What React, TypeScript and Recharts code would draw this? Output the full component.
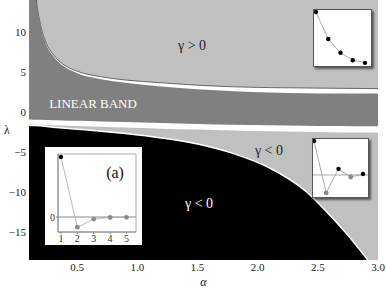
import React from 'react';
import { ComposedChart, Area, Line, XAxis, YAxis, CartesianGrid, ReferenceArea, ReferenceDot, ReferenceLine } from 'recharts';

const serif = '"Liberation Serif", "DejaVu Serif", serif';

// main phase diagram (alpha on x, lambda on y)
const alphas = [0.1, 0.13, 0.16, 0.19, 0.23, 0.3, 0.38, 0.5, 0.7, 0.9, 1.2, 1.5, 1.8, 2.1, 2.4, 2.6, 2.8, 2.9, 3.0];
const upperEdge = [39, 20.2, 14.2, 11.3, 9.1, 7.2, 6.0, 5.1, 4.4, 4.0, 3.65, 3.35, 3.15, 3.05, 3.0, 2.97, 2.95, 2.93, 2.92];
const bandTop = [38.8, 20.0, 14.0, 11.1, 8.9, 7.0, 5.8, 4.85, 4.1, 3.65, 3.2, 2.85, 2.6, 2.45, 2.35, 2.32, 2.3, 2.3, 2.3];
const bandBottom = [-0.95, -0.96, -0.97, -0.98, -1.0, -1.03, -1.06, -1.1, -1.18, -1.26, -1.38, -1.5, -1.6, -1.67, -1.72, -1.75, -1.77, -1.78, -1.78];
const lowerWhite = [-1.55, -1.57, -1.58, -1.6, -1.62, -1.65, -1.7, -1.75, -1.85, -1.95, -2.08, -2.2, -2.3, -2.4, -2.48, -2.52, -2.56, -2.57, -2.58];
const negativeTop = [-1.65, -1.68, -1.7, -1.73, -1.78, -1.9, -2.0, -2.15, -2.4, -2.7, -3.25, -4.0, -5.2, -7.0, -9.9, -12.9, -16.3, -18.2, -20.0];

const alphaTicks = [0.5, 1.0, 1.5, 2.0, 2.5, 3.0];
const lambdaTicks = [-15, -10, -5, 0, 5, 10];

// inset sequences
const steps = [1, 2, 3, 4, 5];
const decayValues = [1.0, 0.49, 0.23, 0.09, 0.04];
const oscillValues = [1.0, -0.53, 0.18, -0.06, 0.03];
const panelAValues = [1.0, -0.17, -0.035, -0.008, -0.005];

const mainData = alphas.map((alpha, i) => ({
  alpha,
  white: [lowerWhite[i], upperEdge[i]],
  band: [bandBottom[i], bandTop[i]],
  black: negativeTop[i],
  edge: upperEdge[i],
}));

const toSeq = (vals: number[]) => steps.map((n, i) => ({ n, v: vals[i] }));

const fmtLambda = (v: number) => (v < 0 ? '\u2212' + Math.abs(v) : String(v));

const SignDot = (props: any) => {
  const { cx, cy, payload, index } = props;
  if (cx == null || cy == null) return null;
  const neg = payload.v < 0;
  return <circle key={index} cx={cx} cy={cy} r={neg ? 2.4 : 2.2} fill={neg ? '#8a8a8a' : '#000'} />;
};

const boxStyle = (left: number, top: number, w: number, h: number): React.CSSProperties => ({
  position: 'absolute',
  left,
  top,
  width: w,
  height: h,
  background: '#fff',
  border: '1px solid #555',
  boxShadow: '2px 2px 2px rgba(0,0,0,0.55)',
});

const App = () => {
  return (
    <div style={{ position: 'absolute', left: 0, top: 0, width: 386, height: 290, fontFamily: serif }}>
      <ComposedChart width={386} height={290} data={mainData} margin={{ top: 0, right: 8, bottom: 0, left: 0 }}>
        <CartesianGrid fill="#c0c0c0" fillOpacity={1} stroke="none" horizontal={false} vertical={false} />
        <XAxis
          dataKey="alpha"
          type="number"
          domain={[0.1, 3.0]}
          ticks={alphaTicks}
          allowDataOverflow
          height={30}
          tickLine={false}
          axisLine={false}
          tickSize={2}
          tickMargin={1}
          tickFormatter={(v: number) => v.toFixed(1)}
          tick={{ fill: '#222', fontSize: 11, fontFamily: serif }}
          label={{ value: 'α', position: 'insideBottom', offset: 4, fill: '#222', fontSize: 12, fontStyle: 'italic', fontFamily: serif }}
        />
        <YAxis
          type="number"
          domain={[-18.5, 14]}
          ticks={lambdaTicks}
          allowDataOverflow
          width={29}
          tickLine={false}
          axisLine={false}
          tickSize={2}
          tickMargin={1}
          tickFormatter={fmtLambda}
          tick={{ fill: '#222', fontSize: 11, fontFamily: serif }}
          label={{ value: 'λ', position: 'insideLeft', offset: 4, fill: '#222', fontSize: 12, fontFamily: serif }}
        />
        <Area dataKey="white" type="monotone" fill="#ffffff" fillOpacity={1} stroke="none" isAnimationActive={false} />
        <Area dataKey="band" type="monotone" fill="#808080" fillOpacity={1} stroke="none" isAnimationActive={false} />
        <Line dataKey="edge" type="monotone" stroke="#333" strokeWidth={0.7} dot={false} isAnimationActive={false} />
        <Area
          dataKey="black"
          type="monotone"
          baseValue="dataMin"
          fill="#000"
          fillOpacity={1}
          stroke="#fff"
          strokeWidth={1.5}
          isAnimationActive={false}
        />
        <ReferenceDot x={1.455} y={8.375} r={0} fill="none" stroke="none"
          label={{ value: 'γ > 0', position: 'center', fill: '#222', fontSize: 14, fontFamily: serif }} />
        <ReferenceDot x={0.632} y={1.125} r={0} fill="none" stroke="none"
          label={{ value: 'LINEAR BAND', position: 'center', fill: '#fff', fontSize: 13, fontFamily: serif }} />
        <ReferenceDot x={2.094} y={-4.75} r={0} fill="none" stroke="none"
          label={{ value: 'γ < 0', position: 'center', fill: '#222', fontSize: 14, fontFamily: serif }} />
        <ReferenceDot x={1.513} y={-11.375} r={0} fill="none" stroke="none"
          label={{ value: 'γ < 0', position: 'center', fill: '#fff', fontSize: 14, fontFamily: serif }} />
      </ComposedChart>

      {/* top-right inset: decaying sequence */}
      <div style={boxStyle(313, 9, 57, 56)}>
        <ComposedChart width={57} height={56} data={toSeq(decayValues)} margin={{ top: 0, right: 0, bottom: 0, left: 0 }}>
          <XAxis dataKey="n" type="number" domain={[0.84, 5.49]} hide />
          <YAxis type="number" domain={[-0.02, 1.04]} hide />
          <Line dataKey="v" type="linear" stroke="#999" strokeWidth={0.8} dot={SignDot} isAnimationActive={false} />
        </ComposedChart>
      </div>

      {/* middle-right inset: oscillating sequence */}
      <div style={boxStyle(312, 138, 55, 58)}>
        <ComposedChart width={55} height={58} data={toSeq(oscillValues)} margin={{ top: 0, right: 0, bottom: 0, left: 0 }}>
          <XAxis dataKey="n" type="number" domain={[0.92, 5.41]} hide />
          <YAxis type="number" domain={[-0.65, 1.06]} hide />
          <ReferenceLine y={0} stroke="#aaa" strokeWidth={1} />
          <Line dataKey="v" type="linear" stroke="#999" strokeWidth={0.8} dot={SignDot} isAnimationActive={false} />
        </ComposedChart>
      </div>

      {/* panel (a) inset */}
      <div style={{ position: 'absolute', left: 45, top: 147, width: 97, height: 98, background: '#fff' }}>
        <ComposedChart width={97} height={98} data={toSeq(panelAValues)} margin={{ top: 7, right: 6, bottom: 0, left: 0 }}>
          <XAxis
            dataKey="n"
            type="number"
            domain={[0.82, 5.58]}
            ticks={steps}
            height={13}
            tickSize={2}
            tickMargin={1}
            stroke="#888"
            tick={{ fill: '#333', fontSize: 10, fontFamily: serif }}
          />
          <YAxis
            type="number"
            domain={[-0.25, 1.05]}
            ticks={[0]}
            width={13}
            tickSize={2}
            tickMargin={1}
            stroke="#888"
            tick={{ fill: '#333', fontSize: 10, fontFamily: serif }}
          />
          <ReferenceArea x1={0.82} x2={5.58} y1={-0.25} y2={1.05} fill="none" stroke="#aaa" />
          <ReferenceLine y={0} stroke="#888" strokeWidth={1} />
          <Line dataKey="v" type="linear" stroke="#aaa" strokeWidth={0.8} dot={SignDot} isAnimationActive={false} />
          <ReferenceDot x={4.3} y={0.75} r={0} fill="none" stroke="none"
            label={{ value: '(a)', position: 'center', fill: '#111', fontSize: 16, fontFamily: serif }} />
        </ComposedChart>
      </div>
    </div>
  );
};

export default App;
